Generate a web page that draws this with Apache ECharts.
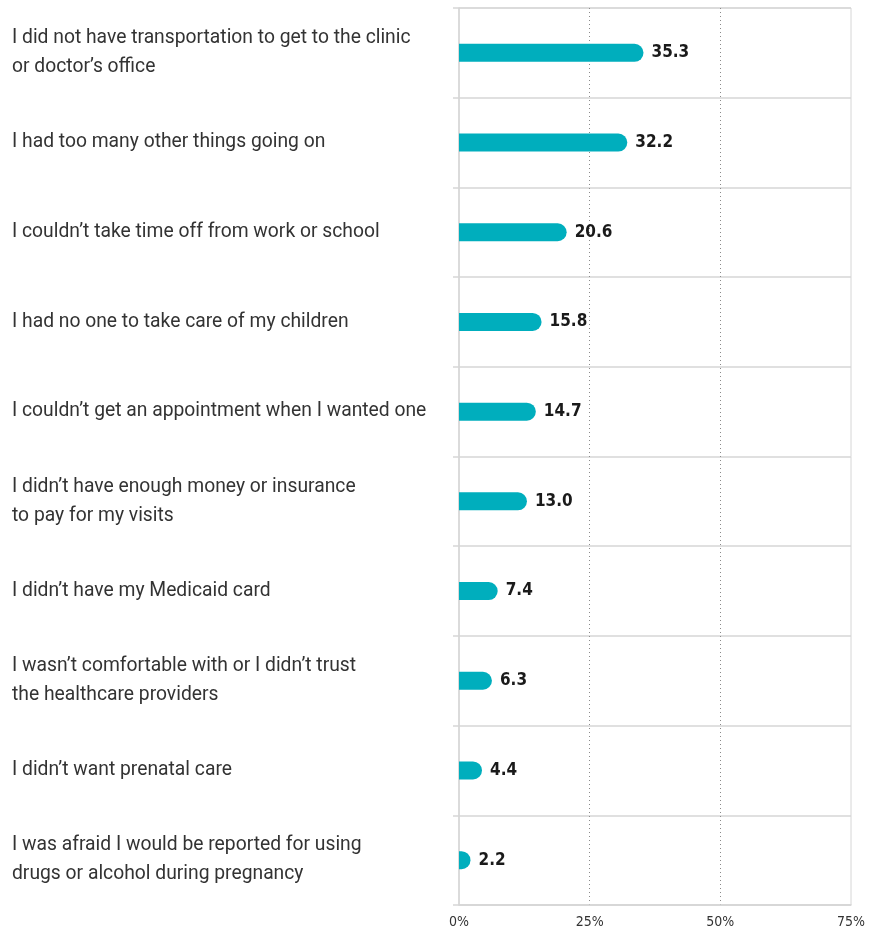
<!DOCTYPE html>
<html>
<head>
<meta charset="utf-8">
<script src="https://cdn.jsdelivr.net/npm/echarts@6/dist/echarts.min.js"></script>
<style>
html,body{margin:0;padding:0;background:#fff;}
#chart{width:869px;height:932px;}
</style>
</head>
<body>
<div id="chart"></div>
<script>
const categories = [
  "I did not have transportation to get to the clinic\nor doctor\u2019s office",
  "I had too many other things going on",
  "I couldn\u2019t take time off from work or school",
  "I had no one to take care of my children",
  "I couldn\u2019t get an appointment when I wanted one",
  "I didn\u2019t have enough money or insurance\nto pay for my visits",
  "I didn\u2019t have my Medicaid card",
  "I wasn\u2019t comfortable with or I didn\u2019t trust\nthe healthcare providers",
  "I didn\u2019t want prenatal care",
  "I was afraid I would be reported for using\ndrugs or alcohol during pregnancy"
];
const values = [35.3, 32.2, 20.6, 15.8, 14.7, 13.0, 7.4, 6.3, 4.4, 2.2];
const xTicks = [0, 25, 50, 75];

const condensed = '"DejaVu Sans Condensed", "Liberation Sans Narrow", "Roboto Condensed", sans-serif';
const chart = echarts.init(document.getElementById('chart'), null, {renderer: 'canvas'});
chart.setOption({
  animation: false,
  backgroundColor: '#fff',
  grid: {left: 459, right: 18, top: 8, bottom: 27, show: true, borderColor: '#d6d6d6', borderWidth: 1},
  xAxis: {
    type: 'value', min: xTicks[0], max: xTicks[xTicks.length - 1], interval: 25,
    axisLine: {show: true, lineStyle: {color: '#d6d6d6', width: 1.5}},
    axisTick: {show: false},
    axisLabel: {formatter: v => v + '%', color: '#333', fontFamily: condensed, fontSize: 14, margin: 10},
    splitLine: {show: true, showMinLine: false, showMaxLine: false, lineStyle: {color: '#8a8a8a', type: [1, 3], width: 1}}
  },
  yAxis: {
    type: 'category', data: categories, inverse: true,
    axisLine: {show: true, lineStyle: {color: '#d6d6d6', width: 1.5}},
    axisTick: {show: true, length: 6, lineStyle: {color: '#d6d6d6', width: 1.5}},
    splitLine: {show: true, lineStyle: {color: '#d6d6d6', width: 1.5}},
    axisLabel: {align: 'left', margin: 447, color: '#333', fontFamily: 'Roboto, "Open Sans", sans-serif', fontSize: 19.3, lineHeight: 29}
  },
  series: [{
    type: 'bar', data: values, barWidth: 18,
    itemStyle: {color: '#00aebd', borderRadius: [0, 9, 9, 0]},
    label: {show: true, position: 'right', distance: 8, formatter: p => p.value.toFixed(1),
      color: '#1a1a1a', fontFamily: condensed, fontWeight: 'bold', fontSize: 17}
  }]
});
</script>
</body>
</html>
